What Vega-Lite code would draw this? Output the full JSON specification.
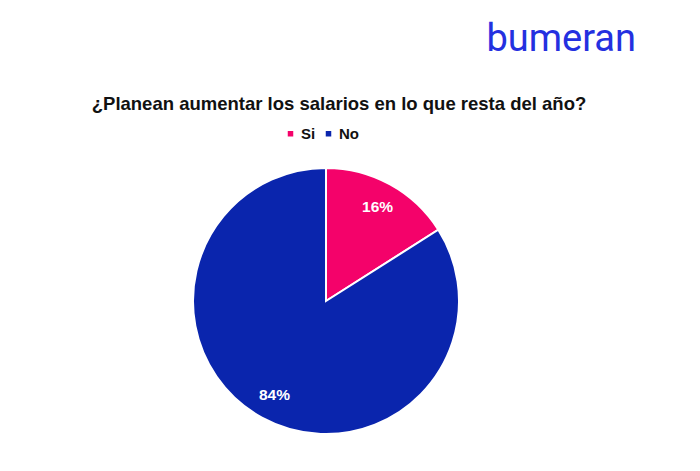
{
  "$schema": "https://vega.github.io/schema/vega-lite/v6.json",
  "padding": {"left": 0, "top": 20, "right": 0, "bottom": 0},
  "background": "white",
  "title": {"text": "bumeran", "anchor": "end", "font": "Roboto", "fontSize": 38, "fontWeight": 400, "color": "#2430E0", "offset": 36, "dx": -16},
  "vconcat": [
    {
      "width": 652,
      "height": 280,
      "title": {"text": "¿Planean aumentar los salarios en lo que resta del año?", "anchor": "middle", "font": "Liberation Sans", "fontSize": 18.5, "fontWeight": "bold", "color": "#111111", "offset": 48, "dx": 13},
      "data": {"values": [
        {"respuesta": "Si", "valor": 0.16},
        {"respuesta": "No", "valor": 0.84}
      ]},
      "encoding": {
        "theta": {"field": "valor", "type": "quantitative", "stack": true},
        "order": {"field": "valor", "sort": "ascending"}
      },
      "layer": [
        {
          "mark": {"type": "arc", "outerRadius": 133, "stroke": "white", "strokeWidth": 2},
          "encoding": {
            "color": {
              "field": "respuesta", "type": "nominal",
              "scale": {"domain": ["Si", "No"], "range": ["#F4026A", "#0A25AD"]},
              "legend": {"title": null, "orient": "none", "legendX": 283, "legendY": -35, "direction": "horizontal", "symbolType": "square", "symbolSize": 49, "labelFont": "Liberation Sans", "labelFontSize": 15, "labelFontWeight": "bold", "labelColor": "#111111", "columnPadding": 5, "labelOffset": 3}
            }
          }
        },
        {
          "mark": {"type": "text", "radius": 107, "font": "Liberation Sans", "fontSize": 15.5, "fontWeight": "bold", "fill": "white"},
          "encoding": {"text": {"field": "valor", "format": ".0%"}}
        }
      ]
    }
  ],
  "config": {"view": {"stroke": null}}
}
